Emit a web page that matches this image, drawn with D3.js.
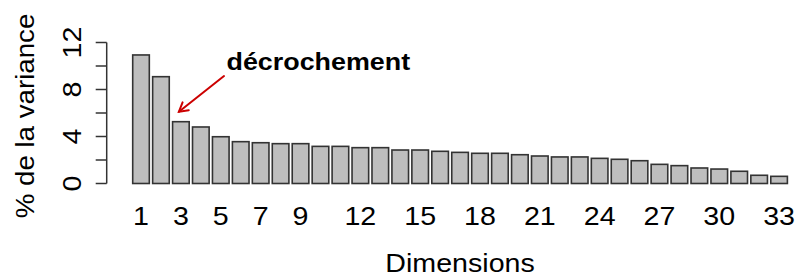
<!DOCTYPE html>
<html>
<head>
<meta charset="utf-8">
<script src="https://cdn.jsdelivr.net/npm/d3@7"></script>
<style>
  body { margin: 0; background: #fff; }
  text { font-family: "Liberation Sans", Arial, sans-serif; fill: #000; }
</style>
</head>
<body>
<svg id="chart"></svg>
<script>
// Percentage of variance explained by each dimension
const dims = d3.range(1, 34);
const variance = [10.94, 9.09, 5.26, 4.81, 3.98, 3.56, 3.47, 3.39, 3.39, 3.16, 3.16,
                  3.05, 3.05, 2.85, 2.85, 2.74, 2.65, 2.57, 2.57, 2.45, 2.34, 2.26,
                  2.26, 2.14, 2.06, 1.94, 1.63, 1.52, 1.32, 1.23, 1.04, 0.70, 0.61];
const xLabels = [1, 3, 5, 7, 9, 12, 15, 18, 21, 24, 27, 30, 33];
const yTicks = [0, 2, 4, 6, 8, 10, 12];
const yLabels = [0, 4, 8, 12];
const xTitle = "Dimensions";
const yTitle = "% de la variance";
const note = "décrochement";

const W = 796, H = 277;
const fs = 26, stretch = 1.1; // text in the reference is a bit wider than Arial

const svg = d3.select("#chart").attr("width", W).attr("height", H);

// R barplot: width 1, space 0.2
const p = 0.2 / 1.2;
const x = d3.scaleBand().domain(dims).range([131.04, 789.06])
    .paddingInner(p).paddingOuter(p / 2);
const y = d3.scaleLinear().domain([0, 12]).range([183.5, 42.5]);

// bars
svg.selectAll(".bar")
    .data(dims)
    .enter().append("rect")
    .attr("class", "bar")
    .attr("x", d => x(d))
    .attr("y", d => y(variance[d - 1]))
    .attr("width", x.bandwidth())
    .attr("height", d => y(0) - y(variance[d - 1]))
    .attr("fill", "#bebebe")
    .attr("stroke", "#333")
    .attr("stroke-width", 1.6);

// y axis (R style: rotated labels, some skipped)
const axisX = 106.7;
const yAxis = svg.append("g").attr("stroke", "#333").attr("stroke-width", 1.5);
yAxis.append("line")
    .attr("x1", axisX).attr("x2", axisX)
    .attr("y1", y(0)).attr("y2", y(12));
yAxis.selectAll(".tick")
    .data(yTicks)
    .enter().append("line")
    .attr("x1", axisX - 11).attr("x2", axisX)
    .attr("y1", d => y(d)).attr("y2", d => y(d));

svg.selectAll(".ylab")
    .data(yLabels)
    .enter().append("text")
    .attr("class", "ylab")
    .attr("transform", d => `translate(81,${y(d)}) rotate(-90) scale(${stretch},1)`)
    .attr("text-anchor", "middle")
    .attr("font-size", fs)
    .text(d => d);

// x labels (names under bars)
svg.selectAll(".xlab")
    .data(xLabels)
    .enter().append("text")
    .attr("class", "xlab")
    .attr("transform", d => `translate(${x(d) + x.bandwidth() / 2},225) scale(${stretch},1)`)
    .attr("text-anchor", "middle")
    .attr("font-size", fs)
    .text(d => d);

// axis titles
svg.append("text")
    .attr("transform", `translate(${(x.range()[0] + x.range()[1]) / 2},272) scale(${stretch},1)`)
    .attr("text-anchor", "middle")
    .attr("font-size", fs)
    .text(xTitle);

svg.append("text")
    .attr("transform", `translate(34,116) rotate(-90) scale(1.065,1)`)
    .attr("text-anchor", "middle")
    .attr("font-size", fs)
    .text(yTitle);

// annotation
svg.append("text")
    .attr("transform", `translate(226.5,70) scale(1.12,1)`)
    .attr("font-size", 24)
    .attr("font-weight", "bold")
    .text(note);

const tipX = x(3) + x.bandwidth() / 2 - 2, tipY = y(variance[2]) - 10;
const tailX = 224, tailY = 76;
const ang = Math.atan2(tipY - tailY, tipX - tailX);
const ah = 10, spread = Math.PI / 6;
const arrow = svg.append("g").attr("stroke", "#cc0000").attr("stroke-width", 2)
    .attr("fill", "none").attr("stroke-linecap", "round");
arrow.append("line")
    .attr("x1", tailX).attr("y1", tailY).attr("x2", tipX).attr("y2", tipY);
arrow.append("path")
    .attr("d", `M${tipX - ah * Math.cos(ang - spread)},${tipY - ah * Math.sin(ang - spread)}
                L${tipX},${tipY}
                L${tipX - ah * Math.cos(ang + spread)},${tipY - ah * Math.sin(ang + spread)}`);
</script>
</body>
</html>
